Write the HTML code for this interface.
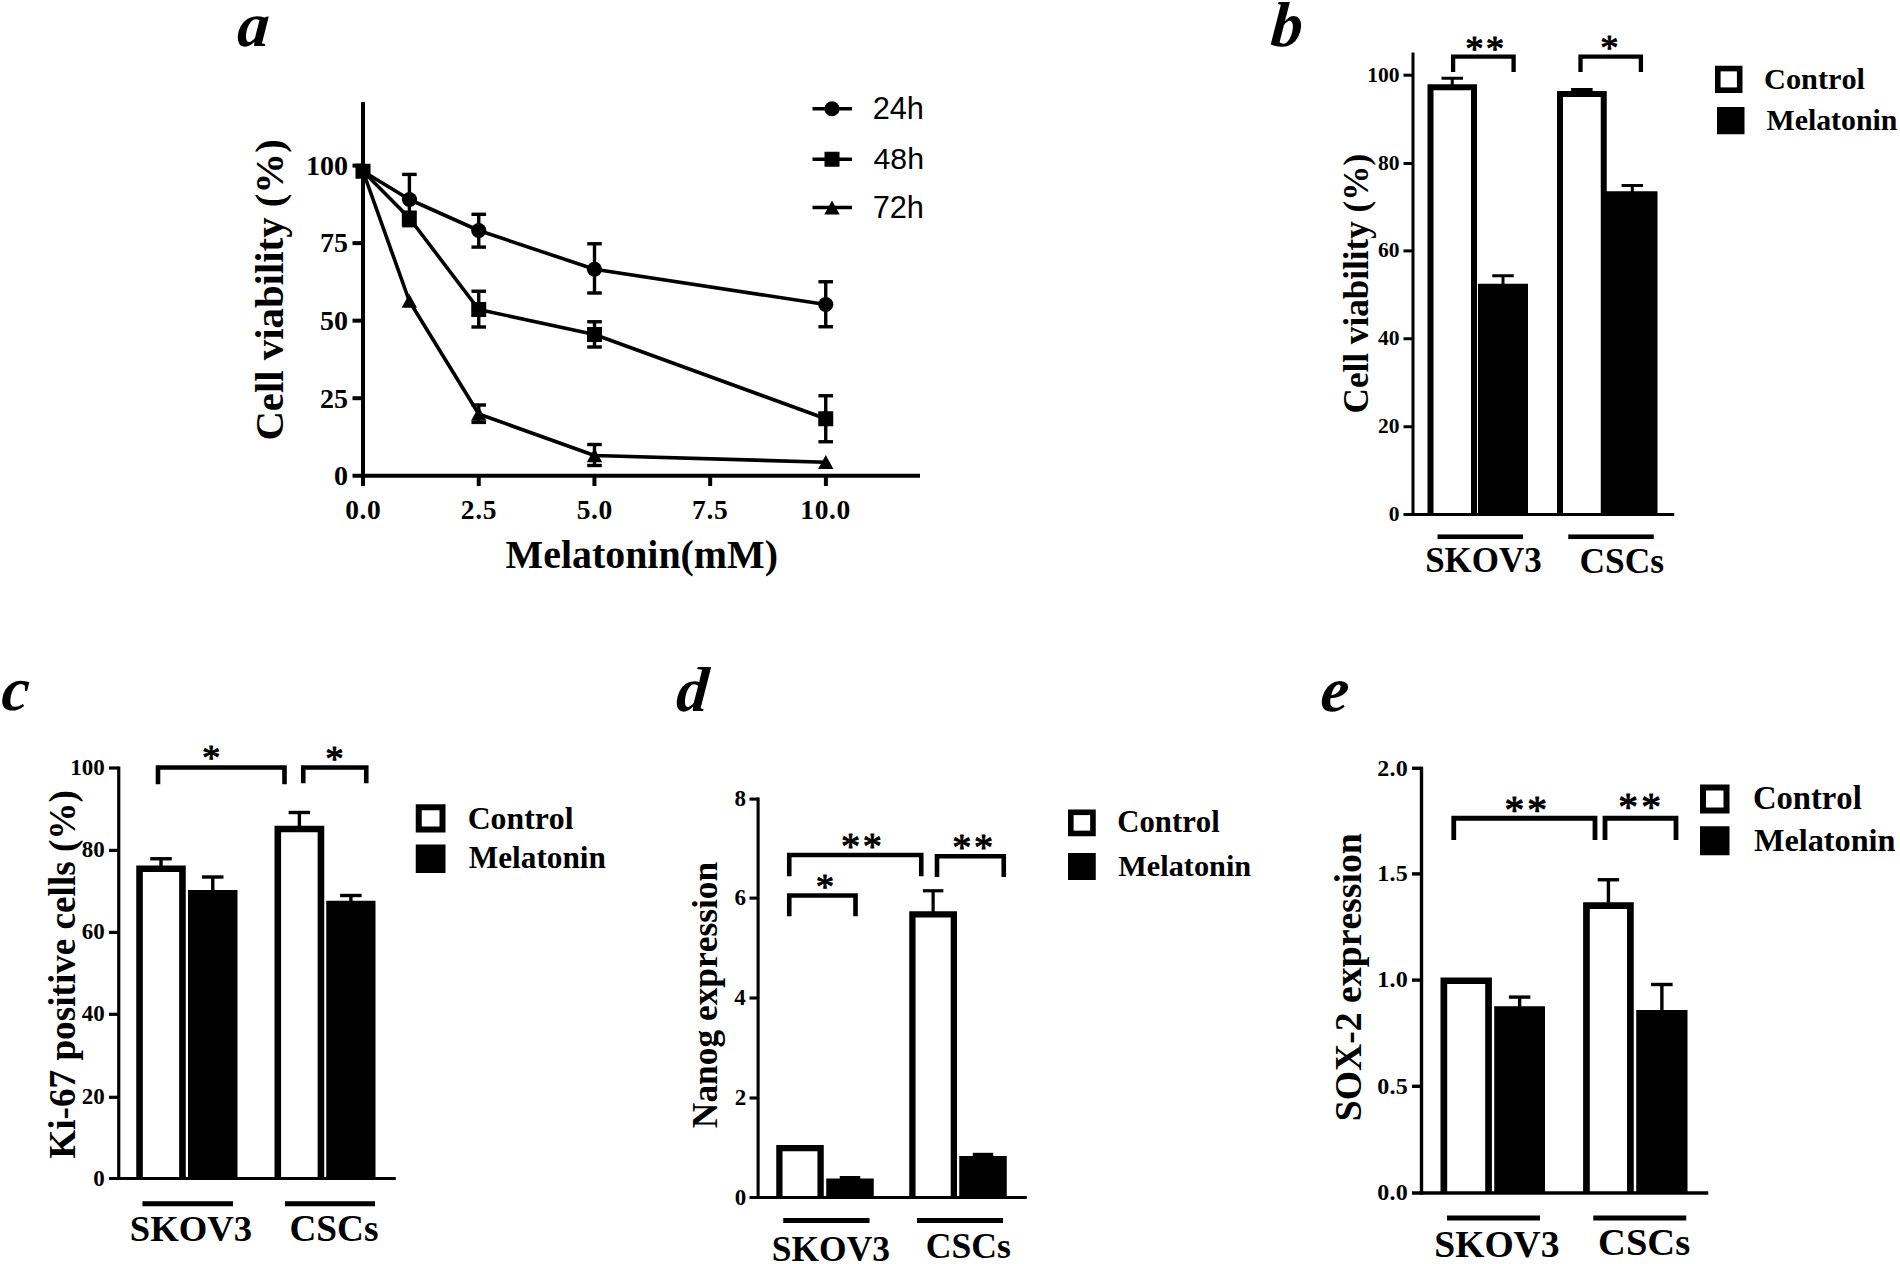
<!DOCTYPE html>
<html lang="en"><head><meta charset="utf-8"><title>Figure</title>
<style>
html,body{margin:0;padding:0;background:#fff}
svg{display:block}
text{font-kerning:none;fill:#000}
.b{font-family:"Liberation Serif","Times New Roman",serif;font-weight:bold}
.r{font-family:"Liberation Serif","Times New Roman",serif}
.bi{font-family:"Liberation Serif","Times New Roman",serif;font-weight:bold;font-style:italic}
.s{font-family:"Liberation Sans",Arial,sans-serif}
line{stroke:#000}
</style></head><body>
<svg width="1900" height="1264" viewBox="0 0 1900 1264">
<rect x="0" y="0" width="1900" height="1264" fill="#fff"/>
<polyline points="363,171.25 409.5,199.5 478.75,230.5 594.5,269.25 825.75,304.5" fill="none" stroke="#000" stroke-width="3.6" stroke-linejoin="round"/>
<polyline points="363,171.25 409.3,218 478.75,309.5 594.5,334.5 825.75,418.75" fill="none" stroke="#000" stroke-width="3.6" stroke-linejoin="round"/>
<polyline points="363,171.25 409.3,301 478.75,414 594.5,455.5 825.75,462.2" fill="none" stroke="#000" stroke-width="3.6" stroke-linejoin="round"/>
<line x1="409.4" y1="174.4" x2="409.4" y2="225.7" stroke-width="3.4"/>
<line x1="402.1" y1="174.4" x2="416.7" y2="174.4" stroke-width="3.4"/>
<line x1="402.1" y1="225.7" x2="416.7" y2="225.7" stroke-width="3.4"/>
<line x1="478.75" y1="214.3" x2="478.75" y2="247.1" stroke-width="3.4"/>
<line x1="471.45" y1="214.3" x2="486.05" y2="214.3" stroke-width="3.4"/>
<line x1="471.45" y1="247.1" x2="486.05" y2="247.1" stroke-width="3.4"/>
<line x1="594.5" y1="243.75" x2="594.5" y2="293" stroke-width="3.4"/>
<line x1="587.2" y1="243.75" x2="601.8" y2="243.75" stroke-width="3.4"/>
<line x1="587.2" y1="293" x2="601.8" y2="293" stroke-width="3.4"/>
<line x1="825.75" y1="281.75" x2="825.75" y2="326.75" stroke-width="3.4"/>
<line x1="818.45" y1="281.75" x2="833.05" y2="281.75" stroke-width="3.4"/>
<line x1="818.45" y1="326.75" x2="833.05" y2="326.75" stroke-width="3.4"/>
<line x1="478.75" y1="291.25" x2="478.75" y2="327" stroke-width="3.4"/>
<line x1="471.45" y1="291.25" x2="486.05" y2="291.25" stroke-width="3.4"/>
<line x1="471.45" y1="327" x2="486.05" y2="327" stroke-width="3.4"/>
<line x1="594.5" y1="321.75" x2="594.5" y2="347" stroke-width="3.4"/>
<line x1="587.2" y1="321.75" x2="601.8" y2="321.75" stroke-width="3.4"/>
<line x1="587.2" y1="347" x2="601.8" y2="347" stroke-width="3.4"/>
<line x1="825.75" y1="395.75" x2="825.75" y2="441.75" stroke-width="3.4"/>
<line x1="818.45" y1="395.75" x2="833.05" y2="395.75" stroke-width="3.4"/>
<line x1="818.45" y1="441.75" x2="833.05" y2="441.75" stroke-width="3.4"/>
<line x1="478.75" y1="405" x2="478.75" y2="422.4" stroke-width="3.4"/>
<line x1="471.45" y1="405" x2="486.05" y2="405" stroke-width="3.4"/>
<line x1="471.45" y1="422.4" x2="486.05" y2="422.4" stroke-width="3.4"/>
<line x1="594.5" y1="444.5" x2="594.5" y2="465.5" stroke-width="3.4"/>
<line x1="587.2" y1="444.5" x2="601.8" y2="444.5" stroke-width="3.4"/>
<line x1="587.2" y1="465.5" x2="601.8" y2="465.5" stroke-width="3.4"/>
<circle cx="409.5" cy="199.5" r="7.6"/>
<circle cx="478.75" cy="230.5" r="7.6"/>
<circle cx="594.5" cy="269.25" r="7.6"/>
<circle cx="825.75" cy="304.5" r="7.6"/>
<rect x="355.5" y="163.75" width="15" height="15"/>
<rect x="401.8" y="210.5" width="15" height="15"/>
<rect x="471.25" y="302" width="15" height="15"/>
<rect x="587" y="327" width="15" height="15"/>
<rect x="818.25" y="411.25" width="15" height="15"/>
<path d="M409.3 293.8L417 307.8H401.6Z"/>
<path d="M478.75 406.8L486.45 420.8H471.05Z"/>
<path d="M594.5 448.3L602.2 462.3H586.8Z"/>
<path d="M825.75 455L833.45 469H818.05Z"/>
<line x1="363" y1="102" x2="363" y2="486" stroke-width="4"/>
<line x1="352.5" y1="475.75" x2="920" y2="475.75" stroke-width="4"/>
<line x1="352.5" y1="165.6" x2="363" y2="165.6" stroke-width="4"/>
<text x="306.07" y="174.9" class="b" font-size="28">100</text>
<line x1="352.5" y1="243.14" x2="363" y2="243.14" stroke-width="4"/>
<text x="320.03" y="252.44" class="b" font-size="28">75</text>
<line x1="352.5" y1="320.67" x2="363" y2="320.67" stroke-width="4"/>
<text x="320.07" y="329.97" class="b" font-size="28">50</text>
<line x1="352.5" y1="398.21" x2="363" y2="398.21" stroke-width="4"/>
<text x="320.03" y="407.51" class="b" font-size="28">25</text>
<text x="334.07" y="485.05" class="b" font-size="28">0</text>
<text x="345.21" y="518.6" class="b" font-size="27.5" letter-spacing="0.6">0.0</text>
<line x1="478.73" y1="475.75" x2="478.73" y2="486" stroke-width="4"/>
<text x="460.86" y="518.6" class="b" font-size="27.5" letter-spacing="0.6">2.5</text>
<line x1="594.45" y1="475.75" x2="594.45" y2="486" stroke-width="4"/>
<text x="576.64" y="518.6" class="b" font-size="27.5" letter-spacing="0.6">5.0</text>
<line x1="710.17" y1="475.75" x2="710.17" y2="486" stroke-width="4"/>
<text x="692.11" y="518.6" class="b" font-size="27.5" letter-spacing="0.6">7.5</text>
<line x1="825.9" y1="475.75" x2="825.9" y2="486" stroke-width="4"/>
<text x="800.36" y="518.6" class="b" font-size="27.5" letter-spacing="0.6">10.0</text>
<text x="505.57" y="568" class="b" font-size="39.88">Melatonin(mM)</text>
<text transform="translate(283 440.59) rotate(-90)" class="b" font-size="40.79">Cell viability (%)</text>
<line x1="812.5" y1="108.75" x2="852" y2="108.75" stroke-width="3.6"/>
<circle cx="832" cy="108.75" r="7.6"/>
<text x="872.7" y="118.75" class="s" font-size="30.74">24h</text>
<line x1="812.5" y1="159.25" x2="852" y2="159.25" stroke-width="3.6"/>
<rect x="824.5" y="151.75" width="15" height="15"/>
<text x="873.56" y="168.75" class="s" font-size="30.21">48h</text>
<line x1="812.5" y1="207.5" x2="852" y2="207.5" stroke-width="3.6"/>
<path d="M832 200.6L839.7 214.6H824.3Z"/>
<text x="872.67" y="217.5" class="s" font-size="30.76">72h</text>
<text transform="translate(236.21 46.3) skewX(-4.5)" class="bi" font-size="63.5">a</text>
<line x1="1452.25" y1="78.25" x2="1452.25" y2="86.25" stroke-width="3"/>
<line x1="1441.5" y1="78.25" x2="1463" y2="78.25" stroke-width="3"/>
<path d="M1430.5 514.5V87.25H1474V514.5" fill="#fff" stroke="#000" stroke-width="6"/>
<line x1="1503" y1="275.75" x2="1503" y2="284.75" stroke-width="3"/>
<line x1="1492.25" y1="275.75" x2="1513.75" y2="275.75" stroke-width="3"/>
<rect x="1478" y="283.75" width="50" height="230.75"/>
<line x1="1581.88" y1="89.5" x2="1581.88" y2="92.9" stroke-width="3"/>
<line x1="1571.12" y1="89.5" x2="1592.62" y2="89.5" stroke-width="3"/>
<path d="M1560 514.5V93.9H1603.75V514.5" fill="#fff" stroke="#000" stroke-width="6"/>
<line x1="1632.3" y1="185.5" x2="1632.3" y2="192.25" stroke-width="3"/>
<line x1="1621.55" y1="185.5" x2="1643.05" y2="185.5" stroke-width="3"/>
<rect x="1604" y="191.25" width="53.5" height="323.25"/>
<line x1="1413" y1="52.5" x2="1413" y2="516" stroke-width="3"/>
<line x1="1403.5" y1="514.5" x2="1674.25" y2="514.5" stroke-width="3"/>
<text x="1388.82" y="521.05" class="b" font-size="21.5">0</text>
<line x1="1403.5" y1="426.75" x2="1413" y2="426.75" stroke-width="3"/>
<text x="1378.07" y="433.3" class="b" font-size="21.5">20</text>
<line x1="1403.5" y1="338.75" x2="1413" y2="338.75" stroke-width="3"/>
<text x="1378.07" y="345.3" class="b" font-size="21.5">40</text>
<line x1="1403.5" y1="250.9" x2="1413" y2="250.9" stroke-width="3"/>
<text x="1378.07" y="257.45" class="b" font-size="21.5">60</text>
<line x1="1403.5" y1="163.5" x2="1413" y2="163.5" stroke-width="3"/>
<text x="1378.07" y="170.05" class="b" font-size="21.5">80</text>
<line x1="1403.5" y1="75.2" x2="1413" y2="75.2" stroke-width="3"/>
<text x="1367.32" y="81.75" class="b" font-size="21.5">100</text>
<path d="M1453.1 72V56.6H1513.6V72" fill="none" stroke="#000" stroke-width="4.3"/>
<path d="M1580.5 72V56.6H1640.9V72" fill="none" stroke="#000" stroke-width="4.3"/>
<text x="1465.24" y="60.59" class="r" font-size="36.78" stroke="#000" stroke-width="1" stroke-linejoin="round" letter-spacing="2.2">**</text>
<text x="1600.15" y="59.62" class="r" font-size="36.51" stroke="#000" stroke-width="1" stroke-linejoin="round" letter-spacing="2.2">*</text>
<rect x="1437.5" y="534.45" width="85.5" height="4.6"/>
<rect x="1568.25" y="534.45" width="85.5" height="4.6"/>
<text x="1425.14" y="571.75" class="b" font-size="34.96">SKOV3</text>
<text x="1579.52" y="573" class="b" font-size="35.4">CSCs</text>
<text transform="translate(1368 413.42) rotate(-90)" class="b" font-size="35.13">Cell viability (%)</text>
<rect x="1717.8" y="68.55" width="21.9" height="21.65" fill="#fff" stroke="#000" stroke-width="5.6"/>
<rect x="1717" y="107" width="27.5" height="27.25"/>
<text x="1764.02" y="88.75" class="b" font-size="30.3">Control</text>
<text x="1766.49" y="130" class="b" font-size="29.84">Melatonin</text>
<text transform="translate(1269.86 46) skewX(-4.5)" class="bi" font-size="63.5">b</text>
<line x1="161" y1="858.75" x2="161" y2="867.5" stroke-width="3.4"/>
<line x1="150.25" y1="858.75" x2="171.75" y2="858.75" stroke-width="3.4"/>
<path d="M139.55 1178.5V868.8H182.45V1178.5" fill="#fff" stroke="#000" stroke-width="6.6"/>
<line x1="212.75" y1="877" x2="212.75" y2="891" stroke-width="3.4"/>
<line x1="202" y1="877" x2="223.5" y2="877" stroke-width="3.4"/>
<rect x="188" y="890" width="49.5" height="288.5"/>
<line x1="299.38" y1="812.5" x2="299.38" y2="827.75" stroke-width="3.4"/>
<line x1="288.62" y1="812.5" x2="310.12" y2="812.5" stroke-width="3.4"/>
<path d="M277.8 1178.5V829.05H320.95V1178.5" fill="#fff" stroke="#000" stroke-width="6.6"/>
<line x1="350.88" y1="895.5" x2="350.88" y2="901.75" stroke-width="3.4"/>
<line x1="340.12" y1="895.5" x2="361.62" y2="895.5" stroke-width="3.4"/>
<rect x="326.25" y="900.75" width="49.25" height="277.75"/>
<line x1="118.75" y1="766.4" x2="118.75" y2="1180.1" stroke-width="3.2"/>
<line x1="109" y1="1178.5" x2="395.75" y2="1178.5" stroke-width="3.2"/>
<text x="93.13" y="1185.55" class="b" font-size="23">0</text>
<line x1="109" y1="1097.3" x2="118.75" y2="1097.3" stroke-width="3.2"/>
<text x="81.63" y="1104.35" class="b" font-size="23">20</text>
<line x1="109" y1="1014.3" x2="118.75" y2="1014.3" stroke-width="3.2"/>
<text x="81.63" y="1021.35" class="b" font-size="23">40</text>
<line x1="109" y1="932.4" x2="118.75" y2="932.4" stroke-width="3.2"/>
<text x="81.63" y="939.45" class="b" font-size="23">60</text>
<line x1="109" y1="850.4" x2="118.75" y2="850.4" stroke-width="3.2"/>
<text x="81.63" y="857.45" class="b" font-size="23">80</text>
<line x1="109" y1="768" x2="118.75" y2="768" stroke-width="3.2"/>
<text x="70.13" y="775.05" class="b" font-size="23">100</text>
<path d="M158 784.25V767.5H284.5V784.25" fill="none" stroke="#000" stroke-width="4.6"/>
<path d="M303.25 783.25V767.5H366.25V783.25" fill="none" stroke="#000" stroke-width="4.6"/>
<text x="202.04" y="770.09" class="r" font-size="36.78" stroke="#000" stroke-width="1" stroke-linejoin="round" letter-spacing="2.2">*</text>
<text x="325.29" y="771.34" class="r" font-size="36.78" stroke="#000" stroke-width="1" stroke-linejoin="round" letter-spacing="2.2">*</text>
<rect x="142.5" y="1201.25" width="90.5" height="5"/>
<rect x="285" y="1201.25" width="90" height="5"/>
<text x="129.8" y="1240.5" class="b" font-size="36.65">SKOV3</text>
<text x="289.43" y="1240.5" class="b" font-size="37.23">CSCs</text>
<text transform="translate(75 1158.64) rotate(-90)" class="b" font-size="37.19">Ki-67 positive cells (%)</text>
<rect x="418.75" y="807.25" width="23.75" height="22.25" fill="#fff" stroke="#000" stroke-width="6"/>
<rect x="415.75" y="844.5" width="29.75" height="28.5"/>
<text x="467.7" y="828.75" class="b" font-size="31.76">Control</text>
<text x="468.72" y="868.25" class="b" font-size="31.28">Melatonin</text>
<text transform="translate(0.59 710) skewX(-4.5)" class="bi" font-size="62">c</text>
<path d="M779.4 1197.5V1148.15H820.6V1197.5" fill="#fff" stroke="#000" stroke-width="6.3"/>
<line x1="850" y1="1177.6" x2="850" y2="1179.5" stroke-width="3.2"/>
<line x1="839.75" y1="1177.6" x2="860.25" y2="1177.6" stroke-width="3.2"/>
<rect x="826.25" y="1178.5" width="47.5" height="19"/>
<line x1="933.12" y1="890.75" x2="933.12" y2="913.25" stroke-width="3.2"/>
<line x1="922.88" y1="890.75" x2="943.38" y2="890.75" stroke-width="3.2"/>
<path d="M912.4 1197.5V914.4H953.85V1197.5" fill="#fff" stroke="#000" stroke-width="6.3"/>
<line x1="983" y1="1154.4" x2="983" y2="1157" stroke-width="3.2"/>
<line x1="972.75" y1="1154.4" x2="993.25" y2="1154.4" stroke-width="3.2"/>
<rect x="959.25" y="1156" width="47.5" height="41.5"/>
<line x1="758.1" y1="797.6" x2="758.1" y2="1199.05" stroke-width="3.1"/>
<line x1="749.5" y1="1197.5" x2="1026.75" y2="1197.5" stroke-width="3.1"/>
<text x="734.68" y="1204.55" class="b" font-size="23">0</text>
<line x1="749.5" y1="1098" x2="758.1" y2="1098" stroke-width="3.1"/>
<text x="734.79" y="1105.05" class="b" font-size="23">2</text>
<line x1="749.5" y1="998" x2="758.1" y2="998" stroke-width="3.1"/>
<text x="734.23" y="1005.05" class="b" font-size="23">4</text>
<line x1="749.5" y1="898.1" x2="758.1" y2="898.1" stroke-width="3.1"/>
<text x="734.47" y="905.15" class="b" font-size="23">6</text>
<line x1="749.5" y1="799.1" x2="758.1" y2="799.1" stroke-width="3.1"/>
<text x="734.56" y="806.15" class="b" font-size="23">8</text>
<path d="M789.25 876.25V855H921.25V876.25" fill="none" stroke="#000" stroke-width="4.6"/>
<path d="M937 877V856.25H1003.75V877" fill="none" stroke="#000" stroke-width="4.6"/>
<path d="M789.25 916.25V895.5H855.5V916.25" fill="none" stroke="#000" stroke-width="4.6"/>
<text x="841.11" y="859.24" class="r" font-size="38.15" stroke="#000" stroke-width="1" stroke-linejoin="round" letter-spacing="2.6">**</text>
<text x="952.36" y="859.99" class="r" font-size="38.15" stroke="#000" stroke-width="1" stroke-linejoin="round" letter-spacing="2.6">**</text>
<text x="815.79" y="898.84" class="r" font-size="36.78" stroke="#000" stroke-width="1" stroke-linejoin="round" letter-spacing="2.2">*</text>
<rect x="783.25" y="1218" width="86.25" height="5"/>
<rect x="917" y="1218" width="86" height="5"/>
<text x="771.86" y="1260.5" class="b" font-size="35.42">SKOV3</text>
<text x="925.76" y="1257.5" class="b" font-size="35.62">CSCs</text>
<text transform="translate(717.2 1128.17) rotate(-90)" class="b" font-size="35.39">Nanog expression</text>
<rect x="1070.8" y="812.3" width="22.15" height="21.15" fill="#fff" stroke="#000" stroke-width="5.6"/>
<rect x="1068" y="853" width="27.75" height="27"/>
<text x="1117.25" y="832" class="b" font-size="30.76">Control</text>
<text x="1118.23" y="875.75" class="b" font-size="30.3">Melatonin</text>
<text transform="translate(675.26 710.5) skewX(-4.5)" class="bi" font-size="63.5">d</text>
<path d="M1443.85 1193V980.75H1488.55V1193" fill="#fff" stroke="#000" stroke-width="6.7"/>
<line x1="1519.62" y1="997.1" x2="1519.62" y2="1007.25" stroke-width="3.4"/>
<line x1="1508.88" y1="997.1" x2="1530.38" y2="997.1" stroke-width="3.4"/>
<rect x="1494.25" y="1006.25" width="50.75" height="186.75"/>
<line x1="1608.42" y1="879.75" x2="1608.42" y2="904.25" stroke-width="3.4"/>
<line x1="1597.67" y1="879.75" x2="1619.17" y2="879.75" stroke-width="3.4"/>
<path d="M1586.45 1193V905.6H1630.4V1193" fill="#fff" stroke="#000" stroke-width="6.7"/>
<line x1="1661.88" y1="984.5" x2="1661.88" y2="1011" stroke-width="3.4"/>
<line x1="1651.12" y1="984.5" x2="1672.62" y2="984.5" stroke-width="3.4"/>
<rect x="1636.25" y="1010" width="51.25" height="183"/>
<line x1="1421.5" y1="766.8" x2="1421.5" y2="1194.7" stroke-width="3.4"/>
<line x1="1412" y1="1193" x2="1708.25" y2="1193" stroke-width="3.4"/>
<text x="1377.31" y="1200.38" class="b" font-size="24" letter-spacing="0.25">0.0</text>
<line x1="1412" y1="1086.3" x2="1421.5" y2="1086.3" stroke-width="3.4"/>
<text x="1377.28" y="1093.68" class="b" font-size="24" letter-spacing="0.25">0.5</text>
<line x1="1412" y1="980.1" x2="1421.5" y2="980.1" stroke-width="3.4"/>
<text x="1377.31" y="987.48" class="b" font-size="24" letter-spacing="0.25">1.0</text>
<line x1="1412" y1="873.9" x2="1421.5" y2="873.9" stroke-width="3.4"/>
<text x="1377.28" y="881.28" class="b" font-size="24" letter-spacing="0.25">1.5</text>
<line x1="1412" y1="768.3" x2="1421.5" y2="768.3" stroke-width="3.4"/>
<text x="1377.31" y="775.68" class="b" font-size="24" letter-spacing="0.25">2.0</text>
<path d="M1453.75 840V818.25H1595V840" fill="none" stroke="#000" stroke-width="4.8"/>
<path d="M1605 840V818.25H1676V840" fill="none" stroke="#000" stroke-width="4.8"/>
<text x="1504.38" y="823.38" class="r" font-size="39.51" stroke="#000" stroke-width="1" stroke-linejoin="round" letter-spacing="3.2">**</text>
<text x="1618.23" y="820.13" class="r" font-size="39.51" stroke="#000" stroke-width="1" stroke-linejoin="round" letter-spacing="3.2">**</text>
<rect x="1447" y="1215.5" width="93" height="5"/>
<rect x="1593.25" y="1215.5" width="93" height="5"/>
<text x="1434.25" y="1257.25" class="b" font-size="37.58">SKOV3</text>
<text x="1598.12" y="1255" class="b" font-size="38.53">CSCs</text>
<text transform="translate(1360.75 1121.26) rotate(-90)" class="b" font-size="37.71">SOX-2 expression</text>
<rect x="1703" y="787.5" width="23.5" height="23" fill="#fff" stroke="#000" stroke-width="6"/>
<rect x="1700" y="826.25" width="29.5" height="29"/>
<text x="1752.9" y="808.75" class="b" font-size="32.67">Control</text>
<text x="1753.95" y="850.5" class="b" font-size="32.25">Melatonin</text>
<text transform="translate(1319.46 711.2) skewX(-4.5)" class="bi" font-size="63.5">e</text>
</svg>
</body></html>
